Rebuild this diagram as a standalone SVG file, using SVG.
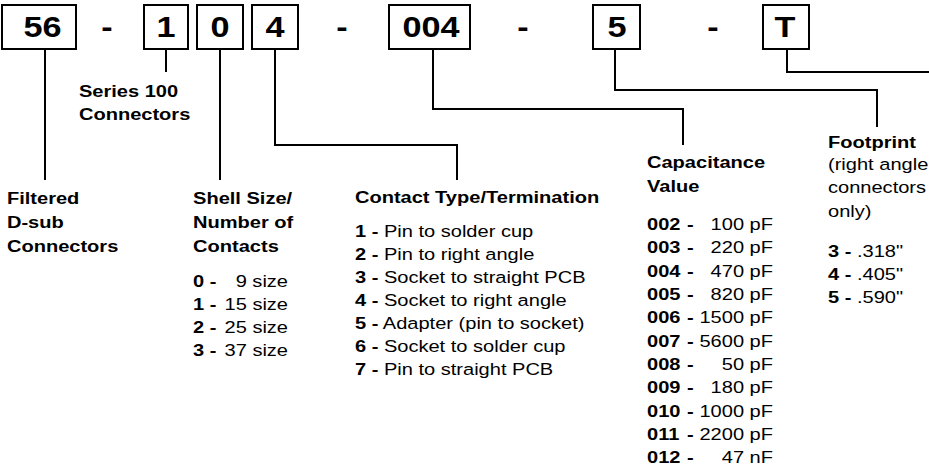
<svg xmlns="http://www.w3.org/2000/svg" width="929" height="472" viewBox="0 0 929 472">
<style>
text{font-family:"Liberation Sans",Arial,Helvetica,sans-serif;fill:#000}
.box{fill:#fff;stroke:#000;stroke-width:2}
.big{font-size:29px;font-weight:bold;text-anchor:middle}
.h{font-size:17px;font-weight:bold}
.t{font-size:17px}
.b{font-weight:bold}
.e{text-anchor:end}
.ln{fill:none;stroke:#000;stroke-width:2}
</style>
<rect width="929" height="472" fill="#fff"/>
<g id="connectors">
<path class="ln" d="M45,49V180"/>
<path class="ln" d="M166,49V72"/>
<path class="ln" d="M220,49V180"/>
<path class="ln" d="M275,49V145H457V180"/>
<path class="ln" d="M433,49V109H683V145"/>
<path class="ln" d="M615,49V90H877V127"/>
<path class="ln" d="M787,49V72H929"/>
</g>
<g id="part-number">
<rect id="box-56" class="box" x="2" y="5" width="74" height="44"/>
<rect id="box-1" class="box" x="144" y="5" width="44" height="44"/>
<rect id="box-0" class="box" x="197" y="5" width="46" height="44"/>
<rect id="box-4" class="box" x="252" y="5" width="46" height="44"/>
<rect id="box-004" class="box" x="389" y="5" width="81" height="44"/>
<rect id="box-5" class="box" x="593" y="5" width="47" height="44"/>
<rect id="box-T" class="box" x="763" y="5" width="46" height="44"/>
<g transform="scale(1.18,1)">
<text class="big" x="36" y="37">56</text>
<text class="big" x="90.7" y="37">-</text>
<text class="big" x="140.7" y="37">1</text>
<text class="big" x="186.4" y="37">0</text>
<text class="big" x="233.1" y="37">4</text>
<text class="big" x="289.8" y="37">-</text>
<text class="big" x="365.3" y="37">004</text>
<text class="big" x="443.2" y="37">-</text>
<text class="big" x="522.9" y="37">5</text>
<text class="big" x="604.2" y="37">-</text>
<text class="big" x="665.3" y="37">T</text>
</g>
</g>
<g transform="scale(1.18,1)">
<g id="series">
<text class="h" x="66.9" y="97">Series 100</text>
<text class="h" x="66.9" y="120">Connectors</text>
</g>
<g id="filtered">
<text class="h" x="5.9" y="204">Filtered</text>
<text class="h" x="5.9" y="228">D-sub</text>
<text class="h" x="5.9" y="252">Connectors</text>
</g>
<g id="shell">
<text class="h" x="163.6" y="204">Shell Size/</text>
<text class="h" x="163.6" y="228">Number of</text>
<text class="h" x="163.6" y="252">Contacts</text>
<text class="t b" x="163.6" y="287">0 -</text><text class="t e" x="244.1" y="287">9 size</text>
<text class="t b" x="163.6" y="310">1 -</text><text class="t e" x="244.1" y="310">15 size</text>
<text class="t b" x="163.6" y="333">2 -</text><text class="t e" x="244.1" y="333">25 size</text>
<text class="t b" x="163.6" y="356">3 -</text><text class="t e" x="244.1" y="356">37 size</text>
</g>
<g id="contact">
<text class="h" x="300.8" y="203">Contact Type/Termination</text>
<text class="t" x="300.8" y="237"><tspan class="b">1 -</tspan> Pin to solder cup</text>
<text class="t" x="300.8" y="260"><tspan class="b">2 -</tspan> Pin to right angle</text>
<text class="t" x="300.8" y="283"><tspan class="b">3 -</tspan> Socket to straight PCB</text>
<text class="t" x="300.8" y="306"><tspan class="b">4 -</tspan> Socket to right angle</text>
<text class="t" x="300.8" y="329"><tspan class="b">5 -</tspan> Adapter (pin to socket)</text>
<text class="t" x="300.8" y="352"><tspan class="b">6 -</tspan> Socket to solder cup</text>
<text class="t" x="300.8" y="375"><tspan class="b">7 -</tspan> Pin to straight PCB</text>
</g>
<g id="capacitance">
<text class="h" x="548.3" y="168">Capacitance</text>
<text class="h" x="548.3" y="192">Value</text>
<text class="t b" x="548.3" y="230">002</text><text class="t b" x="582.2" y="230">-</text><text class="t e" x="655.1" y="230">100 pF</text>
<text class="t b" x="548.3" y="253">003</text><text class="t b" x="582.2" y="253">-</text><text class="t e" x="655.1" y="253">220 pF</text>
<text class="t b" x="548.3" y="277">004</text><text class="t b" x="582.2" y="277">-</text><text class="t e" x="655.1" y="277">470 pF</text>
<text class="t b" x="548.3" y="300">005</text><text class="t b" x="582.2" y="300">-</text><text class="t e" x="655.1" y="300">820 pF</text>
<text class="t b" x="548.3" y="323">006</text><text class="t b" x="582.2" y="323">-</text><text class="t e" x="655.1" y="323">1500 pF</text>
<text class="t b" x="548.3" y="347">007</text><text class="t b" x="582.2" y="347">-</text><text class="t e" x="655.1" y="347">5600 pF</text>
<text class="t b" x="548.3" y="370">008</text><text class="t b" x="582.2" y="370">-</text><text class="t e" x="655.1" y="370">50 pF</text>
<text class="t b" x="548.3" y="393">009</text><text class="t b" x="582.2" y="393">-</text><text class="t e" x="655.1" y="393">180 pF</text>
<text class="t b" x="548.3" y="417">010</text><text class="t b" x="582.2" y="417">-</text><text class="t e" x="655.1" y="417">1000 pF</text>
<text class="t b" x="548.3" y="440">011</text><text class="t b" x="582.2" y="440">-</text><text class="t e" x="655.1" y="440">2200 pF</text>
<text class="t b" x="548.3" y="463">012</text><text class="t b" x="582.2" y="463">-</text><text class="t e" x="655.1" y="463">47 nF</text>
</g>
<g id="footprint">
<text class="h" x="701.7" y="148">Footprint</text>
<text class="t" x="701.7" y="170">(right angle</text>
<text class="t" x="701.7" y="193">connectors</text>
<text class="t" x="701.7" y="217">only)</text>
<text class="t" x="701.7" y="257"><tspan class="b">3 -</tspan> .318"</text>
<text class="t" x="701.7" y="280"><tspan class="b">4 -</tspan> .405"</text>
<text class="t" x="701.7" y="303"><tspan class="b">5 -</tspan> .590"</text>
</g>
</g>
</svg>
